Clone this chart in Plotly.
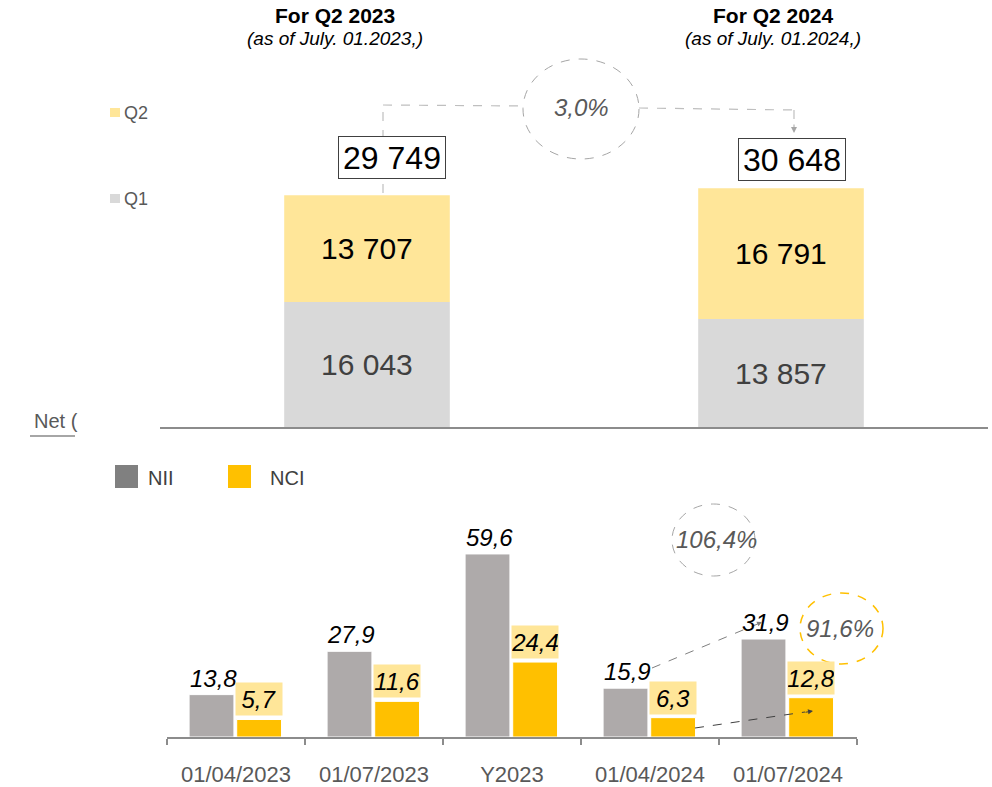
import plotly.graph_objects as go

W, H = 992, 787

# ---------------- data ----------------
periods = ["Q2 2023", "Q2 2024"]
q1_values = [16043, 13857]
q2_values = [13707, 16791]
totals = [29749, 30648]
total_growth = "3,0%"
titles = ["For Q2 2023", "For Q2 2024"]
subtitles = ["(as of July. 01.2023,)", "(as of July. 01.2024,)"]

categories = ["01/04/2023", "01/07/2023", "Y2023", "01/04/2024", "01/07/2024"]
nii_values = [13.8, 27.9, 59.6, 15.9, 31.9]
nci_values = [5.7, 11.6, 24.4, 6.3, 12.8]
nii_growth = "106,4%"
nci_growth = "91,6%"


def px(x):
    return x / W


def py(y):
    return 1 - y / H


def fmt_int(v):
    return f"{v:,}".replace(",", " ")


def fmt_dec(v):
    return f"{v:.1f}".replace(".", ",")


FONT = "Arial, Liberation Sans, sans-serif"
GRAY_TXT = "#595959"
AXIS = "#8C8C8C"

fig = go.Figure()
fig.add_trace(go.Bar(x=periods, y=q1_values, width=0.4, marker_color="#D9D9D9",
                     marker_line_width=0, xaxis="x", yaxis="y", name="Q1"))
fig.add_trace(go.Bar(x=periods, y=q2_values, base=q1_values, width=0.4, marker_color="#FFE699",
                     marker_line_width=0, xaxis="x", yaxis="y", name="Q2"))
fig.add_trace(go.Bar(x=categories, y=nii_values, width=0.325, offset=-0.34, marker_color="#AEAAAA",
                     marker_line=dict(color="white", width=1), xaxis="x2", yaxis="y2", name="NII"))
fig.add_trace(go.Bar(x=categories, y=nci_values, width=0.325, offset=0.005, marker_color="#FFC000",
                     marker_line=dict(color="white", width=1), xaxis="x2", yaxis="y2", name="NCI"))

ann = []
shapes = []


def paper_text(text, x, y, size, color, xanchor="center"):
    ann.append(dict(text=text, x=px(x), y=py(y), xref="paper", yref="paper", xanchor=xanchor,
                    yanchor="middle", showarrow=False, font=dict(size=size, color=color, family=FONT)))


# titles
for t, s, cx in zip(titles, subtitles, [335, 773]):
    paper_text(f"<b>{t}</b>", cx, 15, 21, "black")
    paper_text(f"<i>{s}</i>", cx, 38, 19, "black")

# top bar labels
box_shift = [(25, 16), (11, 7)]
for i, p in enumerate(periods):
    ann.append(dict(text=fmt_int(q1_values[i]), x=p, y=q1_values[i] / 2, xref="x", yref="y",
                    xanchor="center", yanchor="middle",
                    showarrow=False, font=dict(size=30, color="#404040", family=FONT)))
    ann.append(dict(text=fmt_int(q2_values[i]), x=p, y=q1_values[i] + q2_values[i] / 2, xref="x", yref="y",
                    xanchor="center", yanchor="middle",
                    showarrow=False, font=dict(size=30, color="black", family=FONT)))
    ann.append(dict(text=fmt_int(totals[i]), x=p, y=totals[i], xref="x", yref="y",
                    xshift=box_shift[i][0], yshift=box_shift[i][1], xanchor="center", yanchor="bottom",
                    showarrow=False, bgcolor="white", bordercolor="#404040", borderwidth=1, borderpad=2,
                    width=102, height=37,
                    font=dict(size=32, color="black", family=FONT)))

# growth ellipse top
shapes.append(dict(type="circle", xref="paper", yref="paper", x0=px(523), x1=px(639), y0=py(59), y1=py(159),
                   line=dict(color="#A6A6A6", width=1, dash="dash"), fillcolor="rgba(0,0,0,0)"))
paper_text(f"<i>{total_growth}</i>", 581, 108, 24, GRAY_TXT)
for (x0, y0, x1, y1) in [(383, 193, 383, 105), (383, 105, 523, 106), (639, 108, 794, 110), (794, 110, 794, 126)]:
    shapes.append(dict(type="line", xref="paper", yref="paper", x0=px(x0), y0=py(y0), x1=px(x1), y1=py(y1),
                       line=dict(color="#BFBFBF", width=1.2, dash="dash"), layer="above"))
ann.append(dict(text="", x=px(794), y=py(133), xref="paper", yref="paper", showarrow=True,
                ax=0, ay=-10, arrowhead=2, arrowsize=1.2, arrowwidth=1, arrowcolor="#A6A6A6"))

# top legend
for lbl, col, yy in [("Q2", "#FFE699", 113), ("Q1", "#D9D9D9", 199)]:
    shapes.append(dict(type="rect", xref="paper", yref="paper", x0=px(110), x1=px(120), y0=py(yy - 5),
                       y1=py(yy + 4), fillcolor=col, line=dict(width=0)))
    paper_text(lbl, 122, yy, 18, GRAY_TXT, xanchor="left")

# "Net (" fragment
paper_text("Net (", 32, 421, 20, GRAY_TXT, xanchor="left")
shapes.append(dict(type="line", xref="paper", yref="paper", x0=px(30), x1=px(75), y0=py(436), y1=py(436),
                   line=dict(color="#A6A6A6", width=2)))

# bottom legend
for lbl, col, x0, tx in [("NII", "#808080", 115, 146), ("NCI", "#FFC000", 228, 268)]:
    shapes.append(dict(type="rect", xref="paper", yref="paper", x0=px(x0), x1=px(x0 + 23), y0=py(465),
                       y1=py(488), fillcolor=col, line=dict(width=0)))
    paper_text(lbl, tx, 478, 20, "#404040", xanchor="left")

# bottom value labels
for c, a, b in zip(categories, nii_values, nci_values):
    ann.append(dict(text=f"<i>{fmt_dec(a)}</i>", x=c, y=a, xref="x2", yref="y2", xshift=-23, yshift=1,
                    xanchor="center", yanchor="bottom", showarrow=False,
                    font=dict(size=24, color="black", family=FONT)))
    ann.append(dict(text=f"<i>{fmt_dec(b)}</i>", x=c, y=b, xref="x2", yref="y2", xshift=23, yshift=3,
                    xanchor="center", yanchor="bottom", showarrow=False, bgcolor="#FFE699",
                    width=46, height=32, borderpad=0,
                    font=dict(size=24, color="black", family=FONT)))

# bottom growth ellipses
shapes.append(dict(type="circle", xref="paper", yref="paper", x0=px(672), x1=px(755), y0=py(504), y1=py(576),
                   line=dict(color="#A6A6A6", width=1, dash="dash"), fillcolor="rgba(0,0,0,0)"))
paper_text(f"<i>{nii_growth}</i>", 716, 539, 24, GRAY_TXT)
shapes.append(dict(type="circle", xref="paper", yref="paper", x0=px(800), x1=px(883), y0=py(593), y1=py(664),
                   line=dict(color="#FFC000", width=1.5, dash="dash"), fillcolor="rgba(0,0,0,0)"))
paper_text(f"<i>{nci_growth}</i>", 840, 628, 24, GRAY_TXT)

# arrows
shapes.append(dict(type="line", xref="paper", yref="paper", x0=px(652), y0=py(668), x1=px(755), y1=py(625),
                   line=dict(color="#7F7F7F", width=1, dash="dash"), layer="above"))
ann.append(dict(text="", x=px(762), y=py(622), xref="paper", yref="paper", showarrow=True,
                ax=-9, ay=4, arrowhead=2, arrowsize=1, arrowwidth=1, arrowcolor="#7F7F7F"))
shapes.append(dict(type="line", xref="paper", yref="paper", x0=px(695), y0=py(728), x1=px(805), y1=py(712),
                   line=dict(color="#404040", width=1, dash="dash"), layer="above"))
ann.append(dict(text="", x=px(813), y=py(711), xref="paper", yref="paper", showarrow=True,
                ax=-9, ay=1.5, arrowhead=2, arrowsize=1, arrowwidth=1, arrowcolor="#404040"))

fig.update_layout(
    width=W, height=H, margin=dict(l=0, r=0, t=0, b=0),
    paper_bgcolor="white", plot_bgcolor="white",
    barmode="overlay", showlegend=False,
    font=dict(family=FONT),
    xaxis=dict(domain=[px(160), px(988)], anchor="y", showline=True, linecolor=AXIS, linewidth=2,
               showticklabels=False, ticks="", showgrid=False, zeroline=False, fixedrange=True),
    yaxis=dict(domain=[py(427), py(131)], range=[0, 38000], visible=False, fixedrange=True),
    xaxis2=dict(domain=[px(167), px(857)], anchor="y2", showline=True, linecolor=AXIS, linewidth=2,
                ticks="outside", tickson="boundaries", ticklen=6, tickwidth=2, tickcolor=AXIS,
                tickfont=dict(size=22, color=GRAY_TXT, family=FONT), ticklabelstandoff=17,
                showgrid=False, zeroline=False),
    yaxis2=dict(domain=[py(737), py(522)], range=[0, 70], visible=False),
    annotations=ann, shapes=shapes,
)

fig.write_html("out.html", config={"displayModeBar": False},
               post_script="document.body.style.margin='0';document.body.style.overflow='hidden';")
